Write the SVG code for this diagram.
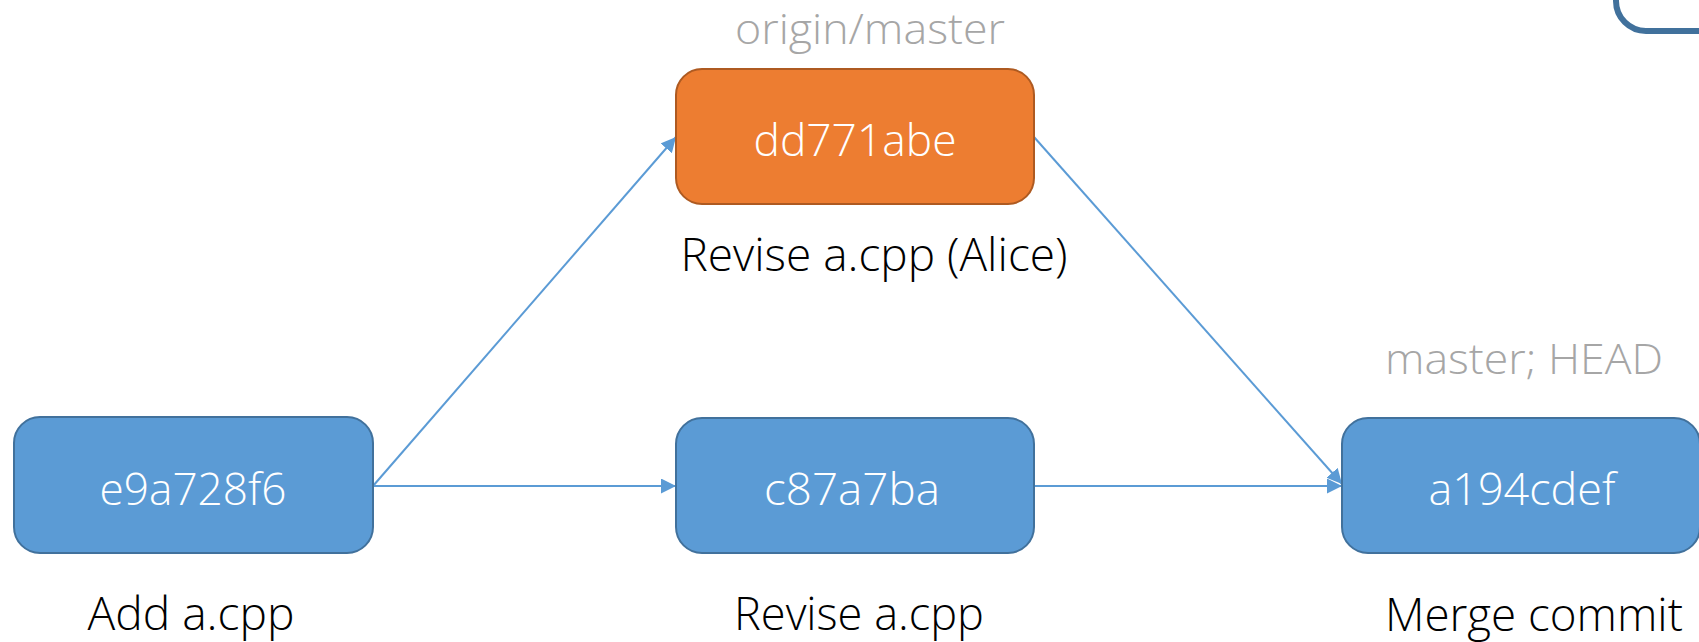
<svg xmlns="http://www.w3.org/2000/svg" width="1699" height="642" viewBox="0 0 1699 642">
<style>
.node{fill:#5B9BD5;stroke:#41719C;stroke-width:2}
.orange{fill:#ED7D31;stroke:#AE5A21;stroke-width:2}
.t{font-family:"Open Sans","Noto Sans",sans-serif;text-anchor:middle}
.in{fill:#FFFFFF;font-size:45px;font-weight:300}
.lab{fill:#000000;font-size:46px;font-weight:300}
.ref{fill:#A6A6A6;font-size:43px;font-weight:300}
.edge{stroke:#5B9BD5;stroke-width:2;fill:none;marker-end:url(#arr)}
</style>
<defs>
<marker id="arr" markerUnits="userSpaceOnUse" markerWidth="16" markerHeight="16" refX="15" refY="7.5" orient="auto">
<path d="M0,0 L15,7.5 L0,15 Z" fill="#5B9BD5"/>
</marker>
</defs>
<rect width="1699" height="642" fill="#FFFFFF"/>
<rect x="1616" y="-60" width="200" height="91" rx="30" fill="none" stroke="#41719C" stroke-width="6"/>
<g id="connectors">
<line class="edge" x1="373" y1="486" x2="676" y2="486"/>
<line class="edge" x1="373" y1="486" x2="676" y2="137"/>
<line class="edge" x1="1034" y1="137" x2="1342" y2="484"/>
<line class="edge" x1="1034" y1="486" x2="1342" y2="486"/>
</g>
<g id="n_e9a728f6">
<rect class="node" x="14" y="417" width="359" height="136" rx="26"/>
<text class="t in" x="193" y="505" textLength="187" lengthAdjust="spacingAndGlyphs">e9a728f6</text>
<text class="t lab" x="191" y="630" textLength="207" lengthAdjust="spacingAndGlyphs">Add a.cpp</text>
</g>
<g id="n_dd771abe">
<text class="t ref" x="870" y="44" textLength="270" lengthAdjust="spacingAndGlyphs">origin/master</text>
<rect class="orange" x="676" y="69" width="358" height="135" rx="26"/>
<text class="t in" x="855" y="156" textLength="203" lengthAdjust="spacingAndGlyphs">dd771abe</text>
<text class="t lab" x="874" y="271" textLength="387" lengthAdjust="spacingAndGlyphs">Revise a.cpp (Alice)</text>
</g>
<g id="n_c87a7ba">
<rect class="node" x="676" y="418" width="358" height="135" rx="26"/>
<text class="t in" x="852" y="505" textLength="176" lengthAdjust="spacingAndGlyphs">c87a7ba</text>
<text class="t lab" x="859" y="630" textLength="250" lengthAdjust="spacingAndGlyphs">Revise a.cpp</text>
</g>
<g id="n_a194cdef">
<text class="t ref" x="1524" y="374" textLength="278" lengthAdjust="spacingAndGlyphs">master; HEAD</text>
<rect class="node" x="1342" y="418" width="358" height="135" rx="26"/>
<text class="t in" x="1522" y="505" textLength="187" lengthAdjust="spacingAndGlyphs">a194cdef</text>
<text class="t lab" x="1534" y="631" textLength="298" lengthAdjust="spacingAndGlyphs">Merge commit</text>
</g>
</svg>
